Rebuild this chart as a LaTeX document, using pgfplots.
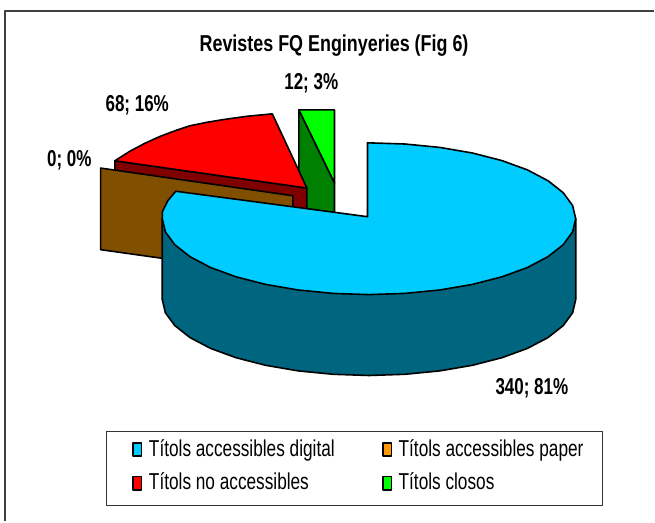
\documentclass[border=0pt]{standalone}
\usepackage{pgfplots}
\pgfplotsset{compat=1.18}
\usepackage{fontspec}
\setmainfont{Liberation Sans}
\newfontfamily\lgd[FakeStretch=0.75]{Liberation Sans}
\newfontfamily\lbl[FakeStretch=0.74]{Liberation Sans Bold}
\newfontfamily\ttl[FakeStretch=0.78]{Liberation Sans Bold}
\definecolor{cblue}{RGB}{0,204,255}
\definecolor{dblue}{RGB}{0,102,128}
\definecolor{cbrown}{RGB}{128,80,0}
\definecolor{corange}{RGB}{255,153,0}
\definecolor{dred}{RGB}{128,0,0}
\definecolor{dgreen}{RGB}{0,128,0}
\begin{document}
\begin{tikzpicture}
\begin{axis}[
  at={(0pt,0pt)}, anchor=south west,
  scale only axis, width=655pt, height=522pt,
  xmin=0, xmax=655, ymin=0, ymax=522, y dir=reverse,
  axis lines=none, clip=false, ticks=none,
  every axis plot/.append style={mark=none, line join=round},
]
% page background and frame (left and top sides only)
\addplot[draw=none, fill=white] coordinates {(0,0)(655,0)(655,522)(0,522)} --cycle;
\addplot[draw=black!75, line width=1.8pt] coordinates {(5,522)(5,11)(655,11)};
% green slice
\addplot[draw=black, line width=1.6pt, fill=dgreen] coordinates {(299.3,110)(335,183.3)(335,213)(299.3,208)} --cycle;
\addplot[draw=black, line width=1.6pt, fill=green] coordinates {(299.3,110)(335,110)(335,183.3)} --cycle;
% red slice
\addplot[draw=black, line width=1.6pt, fill=dred] coordinates {(115,161)(307.3,188.3)(307.3,230)(115,205)} --cycle;
\addplot[draw=black, line width=1.6pt, fill=red] coordinates {(115,161)(130,151.5)(145,143.5)(160,136.7)(175,131)(190,126)(207,122.5)(223.3,119.8)(246.7,116.5)(272.7,114)(307.3,188.3)} --cycle;
% brown slice
\addplot[draw=black, line width=1.6pt, fill=cbrown] coordinates {(100.7,168.3)(293.3,196)(293.3,277)(100.7,250)} --cycle;
% blue wall
\addplot[draw=black, line width=1.6pt, fill=dblue] coordinates {(576.5,219)(576.5,300)(573.4,313.2)(564,326)(548.8,338)(528.1,348.9)(502.6,358.2)(473,365.8)(440.3,371.4)(405.4,374.8)(369.5,376)(333.6,374.8)(298.7,371.4)(266,365.8)(236.4,358.2)(210.9,348.9)(190.2,338)(175,326)(165.6,313.2)(162.5,300)(162.5,219)} --cycle;
% blue top
\addplot[draw=black, line width=1.6pt, fill=cblue] coordinates {(368,217)(368,143)(405.4,144.2)(440.3,147.6)(473,153.2)(502.6,160.8)(528.1,170.1)(548.8,181)(564,193)(573.4,205.8)(576.5,219)(573.4,232.2)(564,245)(548.8,257)(528.1,267.9)(502.6,277.2)(473,284.8)(440.3,290.4)(405.4,293.8)(369.5,295)(333.6,293.8)(298.7,290.4)(266,284.8)(236.4,277.2)(210.9,267.9)(190.2,257)(175,245)(165.6,232.2)(162.5,219)(162.7,211.7)(168,201)(176,191.5)} --cycle;
% legend box and swatches
\addplot[draw=black!80, line width=1pt, fill=white] coordinates {(107,432.5)(603,432.5)(603,506)(107,506)} --cycle;
\addplot[draw=black, line width=1.5pt, fill=cblue] coordinates {(133,443.5)(141.5,443.5)(141.5,456.5)(133,456.5)} --cycle;
\addplot[draw=black, line width=1.5pt, fill=corange] coordinates {(383.5,443.5)(392,443.5)(392,456.5)(383.5,456.5)} --cycle;
\addplot[draw=black, line width=1.5pt, fill=red] coordinates {(133,477)(141.5,477)(141.5,490.5)(133,490.5)} --cycle;
\addplot[draw=black, line width=1.5pt, fill=green] coordinates {(383.5,477)(392,477)(392,490.5)(383.5,490.5)} --cycle;
% texts
\node[anchor=base,inner sep=0pt] at (axis cs:334.5,52) {\fontsize{23}{25}\selectfont\ttl Revistes FQ Enginyeries (Fig 6)};
\node[anchor=base west,inner sep=0pt] at (axis cs:105.5,112) {\fontsize{23}{25}\selectfont\lbl 68; 16\%};
\node[anchor=base west,inner sep=0pt] at (axis cs:47,167) {\fontsize{23}{25}\selectfont\lbl 0; 0\%};
\node[anchor=base west,inner sep=0pt] at (axis cs:284.5,90) {\fontsize{23}{25}\selectfont\lbl 12; 3\%};
\node[anchor=base west,inner sep=0pt] at (axis cs:496,395) {\fontsize{23}{25}\selectfont\lbl 340; 81\%};
\node[anchor=base west,inner sep=0pt] at (axis cs:149,457.5) {\fontsize{23}{25}\selectfont\lgd Títols accessibles digital};
\node[anchor=base west,inner sep=0pt] at (axis cs:399,457.5) {\fontsize{23}{25}\selectfont\lgd Títols accessibles paper};
\node[anchor=base west,inner sep=0pt] at (axis cs:149,490.5) {\fontsize{23}{25}\selectfont\lgd Títols no accessibles};
\node[anchor=base west,inner sep=0pt] at (axis cs:399,490.5) {\fontsize{23}{25}\selectfont\lgd Títols closos};
\end{axis}
\end{tikzpicture}
\end{document}
